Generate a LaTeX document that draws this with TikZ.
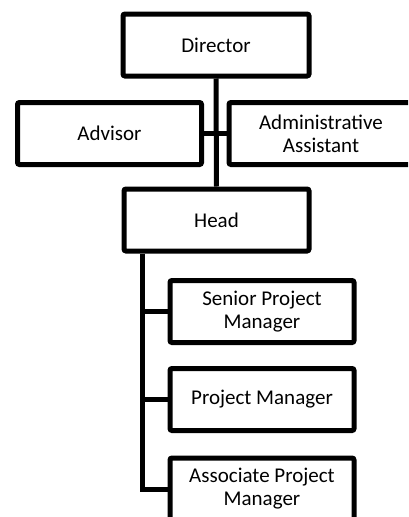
\documentclass[tikz,border=0pt]{standalone}
\usepackage{fontspec}
\setmainfont{Carlito}
\begin{document}
\begin{tikzpicture}[x=1pt,y=-1pt,
  box/.style={draw=black, line width=5pt, rounded corners=2pt, fill=white,
    minimum width=184pt, minimum height=62pt, inner sep=0pt, align=center,
    font=\fontsize{21}{23}\selectfont},
  link/.style={line width=5pt}]
\useasboundingbox (0,0) rectangle (408,517);
\clip (0,0) rectangle (408,517);

% top of the chart
\node[box, minimum width=186pt] (dir) at (216,45) {Director};
\node[box] (adv) at (109.5,133.5) {Advisor};
\node[box] (adm) at (321,133.5) {Administrative\\Assistant};
\node[box, minimum width=185pt] (head) at (216.5,220) {Head};

% staff under the head
\node[box] (spm) at (262,311.5) {Senior Project\\Manager};
\node[box] (pm) at (262,399.5) {Project Manager};
\node[box] (apm) at (262,489) {Associate Project\\Manager};

% connectors
\draw[link] (dir.south) -- (head.north);
\draw[link] (adv.east) -- (adm.west);
\coordinate (trunk) at (142.7,0 |- head.south);
\draw[link] (trunk) |- (apm.west);
\draw[link] (trunk |- spm.west) -- (spm.west);
\draw[link] (trunk |- pm.west) -- (pm.west);
\end{tikzpicture}
\end{document}
